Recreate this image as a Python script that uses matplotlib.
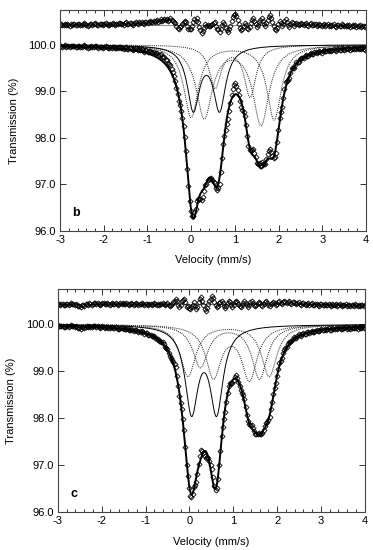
import numpy as np
import matplotlib
matplotlib.use("Agg")
from matplotlib import pyplot as plt
from matplotlib.ticker import MultipleLocator

plt.rcParams['font.family'] = ['Liberation Sans', 'DejaVu Sans']
plt.rcParams['axes.unicode_minus'] = False

# channel velocities (256 channels, -3 .. 4 mm/s)
vel = np.linspace(-3, 4, 256)
fine = np.linspace(-3, 4, 801)

# fitted lines: centres (mm/s), depths (%), half widths (mm/s)
b_solid_c = [0.05, 0.65]
b_solid_d = [1.35, 1.35]
b_solid_w = 0.17
b_dot_c = [[0.0, 1.90], [0.30, 1.60], [0.55, 1.35]]
b_dot_d = [[1.55, 1.60], [1.55, 1.70], [0.90, 1.10]]
b_dot_w = [0.20, 0.22, 0.16]

c_solid_c = [0.05, 0.62]
c_solid_d = [1.80, 1.80]
c_solid_w = 0.18
c_dot_c = [[-0.03, 1.82], [0.25, 1.60], [0.55, 1.37]]
c_dot_d = [[1.10, 1.10], [0.90, 1.15], [1.10, 1.15]]
c_dot_w = [0.21, 0.21, 0.21]

# residuals (data - fit), in 0.01 %
b_resid = [0, 1, -1, 0, 2, -1, 1, 0, -2, 1, 0, 2, 1, -1, 0, 1,
           2, 0, -1, 1, 3, 1, 0, -2, -1, 1, 2, 0, 1, 3, 2, 0,
           -1, 1, 2, 1, 0, 2, 3, 1, -1, 0, 2, 1, 3, 2, 0, 1,
           2, 4, 3, 1, 2, 0, 3, 5, 2, 1, 3, 4, 2, 0, 3, 5,
           4, 2, 5, 3, 6, 4, 2, 5, 7, 4, 6, 8, 5, 7, 9, 6,
           8, 10, 7, 9, 12, 8, 11, 13, 10, 12, 9, 11, 14, 10, 8, 6,
           3, -2, -6, -9, -5, -2, 2, 6, 9, 5, -3, -8, -10, -8, -2, 6,
           12, 8, 14, 6, -4, -12, -18, -14, -6, 2, -3, 0, -2, -3, 0, 2,
           4, 6, -2, -8, -10, -15, -8, 0, 6, 2, -6, -12, -16, -10, -2, 8,
           16, 22, 24, 18, 10, 2, -6, -12, -8, -2, 4, 0, -6, -10, -4, 4,
           10, 14, 8, 2, -4, 0, 6, 10, 14, 8, 2, -2, 4, 10, 16, 20,
           14, 6, -2, -8, -12, -6, 2, 8, 4, -2, 2, 8, 12, 6, 0, -4,
           2, 6, 3, -2, 1, 4, 2, -1, 2, 4, 1, -1, 2, 3, 0, -2,
           1, 3, 0, -1, 2, 1, -2, 0, 2, -1, -3, 0, 1, -2, -1, 1,
           -2, 0, -3, -1, 1, -2, -4, -1, 0, -3, -2, 1, -1, -3, -2, 0,
           -3, -1, -4, -2, 0, -3, -1, -4, -2, -3, -1, -4, -2, -3, -5, -2]

c_resid = [1, 0, -1, 1, 0, -2, -1, 0, 1, -1, 0, 2, 1, 0, -1, 1,
           -2, -4, -3, -5, -2, -1, -3, 0, 1, -1, 2, 0, -1, 1, 3, 2,
           0, 2, 1, -1, 1, 3, 2, 0, 1, 2, 0, -1, 1, 3, 1, 0,
           2, 1, -1, 0, 2, 1, 3, 1, 0, 2, 1, -1, 0, 2, 1, -1,
           1, 2, 0, -1, 1, 0, 2, 1, -1, 0, 1, -2, 0, 1, -1, 0,
           2, 0, -1, 1, -2, 0, 1, 3, 1, -1, 0, 2, -2, -3, -1, 1,
           4, 8, 12, 6, -2, -6, -2, 6, 10, 12, 4, -6, -4, -8, -10, -6,
           -2, 4, -4, -10, -6, 4, 12, 16, 8, -2, -10, -14, -8, 0, 6, 12,
           18, 14, 4, -2, -6, -4, 2, 4, 8, 2, -4, -8, -4, 2, 6, 4,
           -2, -6, -2, 4, 8, 5, 0, -4, -6, -2, 3, 6, 2, -2, -5, -1,
           4, 7, 3, -1, -4, -2, 2, 5, 3, -1, -3, 0, 4, 6, 2, -2,
           -4, 0, 3, 5, 2, -1, 1, 4, 6, 3, 1, 4, 6, 5, 2, 4,
           6, 3, 1, 4, 5, 2, 0, 3, 4, 1, -1, 2, 3, 0, -2, 1,
           2, -1, 0, 2, -1, -2, 0, 1, -1, -3, 0, 1, -2, -1, 0, -2,
           -1, 1, -2, -3, 0, -1, -2, 0, -3, -1, 0, -2, -3, -1, -2, 0,
           -3, -1, -2, -4, -1, -2, -3, 0, -2, -4, -1, -3, -2, -1, -3, -2]

resid_offset = 100.43


def lor(x, centres, depths, w):
    out = np.zeros_like(x)
    for c, d in zip(centres, depths):
        out += d / (1 + ((x - c) / w) ** 2)
    return out


def panel(ax, sc, sd, sw, dc, dd, dw, resid, label):
    absorb_fine = lor(fine, sc, sd, sw)
    absorb_vel = lor(vel, sc, sd, sw)
    for cc, ddd, w in zip(dc, dd, dw):
        comp = lor(fine, cc, ddd, w)
        absorb_fine += comp
        absorb_vel += lor(vel, cc, ddd, w)
        ax.plot(fine, 100 - comp, color='#333333', ls=(0, (1, 1)), lw=0.75)
    ax.plot(fine, 100 - lor(fine, sc, sd, sw), color='k', lw=0.7)

    r = np.array(resid) / 100.0
    data = 100 - absorb_vel + r
    ax.axhline(resid_offset, color='#888888', lw=0.7)
    ax.plot(vel, resid_offset + r, ls='none', marker='D', ms=2.6,
            mfc='none', mec='k', mew=0.6)
    ax.plot(vel, data, ls='none', marker='D', ms=2.6,
            mfc='none', mec='k', mew=0.6)
    ax.plot(fine, 100 - absorb_fine, color='k', lw=1.4)

    ax.set_xlim(-3, 4)
    ax.set_ylim(96.0, 100.75)
    ax.set_yticks([96, 97, 98, 99, 100])
    ax.set_yticklabels(['96.0', '97.0', '98.0', '99.0', '100.0'])
    ax.xaxis.set_major_locator(MultipleLocator(1))
    ax.xaxis.set_minor_locator(MultipleLocator(0.2))
    ax.tick_params(which='both', direction='in', top=True, right=True,
                   labelsize=8, width=0.7, color='#333333')
    ax.tick_params(which='major', length=4, pad=3)
    ax.tick_params(which='minor', length=2)
    ax.tick_params(axis='y', which='minor', left=False, right=False)
    for s in ax.spines.values():
        s.set_linewidth(0.8)
        s.set_color('#444444')
    ax.set_xlabel('Velocity (mm/s)', fontsize=8)
    ax.set_ylabel('Transmission (%)', fontsize=8)
    ax.xaxis.set_label_coords(0.5, -0.11)
    ax.yaxis.set_label_coords(-0.135, 0.5)
    ax.text(-2.72, 96.32, label, fontsize=9, fontweight='bold')


fig = plt.figure(figsize=(3.73, 5.5), dpi=100)
ax_b = fig.add_axes([0.161, 0.58, 0.820, 0.402])
ax_c = fig.add_axes([0.155, 0.069, 0.823, 0.405])

panel(ax_b, b_solid_c, b_solid_d, b_solid_w, b_dot_c, b_dot_d, b_dot_w,
      b_resid, 'b')
panel(ax_c, c_solid_c, c_solid_d, c_solid_w, c_dot_c, c_dot_d, c_dot_w,
      c_resid, 'c')

fig.savefig('out.png', dpi=100)
